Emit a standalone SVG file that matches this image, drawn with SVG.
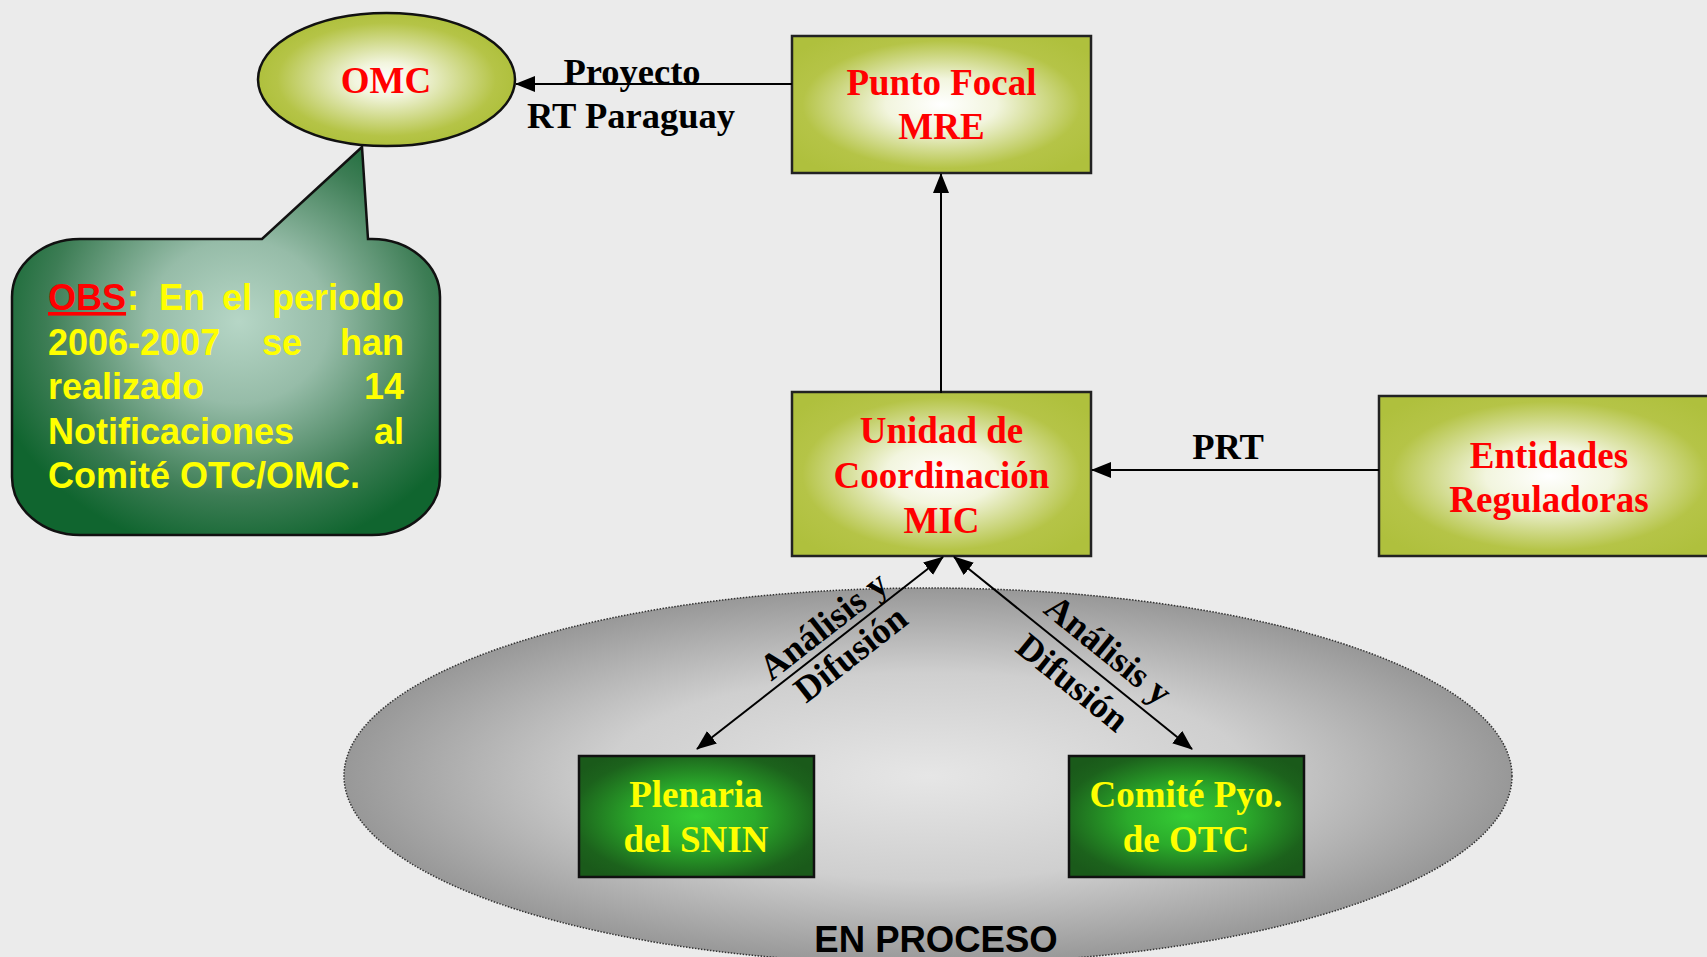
<svg xmlns="http://www.w3.org/2000/svg" width="1707" height="957" viewBox="0 0 1707 957">
<defs>
<radialGradient id="olive" cx="0.5" cy="0.5" r="0.62">
<stop offset="0" stop-color="#ffffff"/>
<stop offset="0.3" stop-color="#f2f5de"/>
<stop offset="0.75" stop-color="#b5c447"/>
<stop offset="1" stop-color="#afc03d"/>
</radialGradient>
<radialGradient id="oliveE" cx="0.5" cy="0.5" r="0.5">
<stop offset="0" stop-color="#ffffff"/>
<stop offset="0.25" stop-color="#f2f5de"/>
<stop offset="0.85" stop-color="#b5c447"/>
<stop offset="1" stop-color="#afc03d"/>
</radialGradient>
<radialGradient id="green" cx="0.5" cy="0.5" r="0.62">
<stop offset="0" stop-color="#35cc35"/>
<stop offset="0.4" stop-color="#2bab2b"/>
<stop offset="0.85" stop-color="#1c621c"/>
<stop offset="1" stop-color="#1a5a1a"/>
</radialGradient>
<radialGradient id="bubble" cx="0.53" cy="0.45" r="0.6">
<stop offset="0" stop-color="#b6d6c6"/>
<stop offset="0.35" stop-color="#96bca8"/>
<stop offset="0.75" stop-color="#3d7d55"/>
<stop offset="1" stop-color="#10652f"/>
</radialGradient>
<radialGradient id="gray" cx="0.5" cy="0.5" r="0.5">
<stop offset="0" stop-color="#e6e6e6"/>
<stop offset="0.55" stop-color="#cfcfcf"/>
<stop offset="1" stop-color="#989898"/>
</radialGradient>
<marker id="ah" viewBox="0 0 20 16" refX="19" refY="8" markerWidth="20" markerHeight="16" markerUnits="userSpaceOnUse" orient="auto-start-reverse">
<path d="M0,0 L20,8 L0,16 Z" fill="#000"/>
</marker>
</defs>
<style>
.olive{fill:url(#olive);stroke:#222;stroke-width:2.5}
.green{fill:url(#green);stroke:#111;stroke-width:2.5}
.red{font-family:"Liberation Serif",serif;font-weight:bold;font-size:37px;fill:#ff0000;text-anchor:middle}
.yel{font-family:"Liberation Serif",serif;font-weight:bold;font-size:37px;fill:#ffff00;text-anchor:middle}
.lbl{font-family:"Liberation Serif",serif;font-weight:bold;font-size:36.5px;fill:#000}
.obs{font-family:"Liberation Sans",sans-serif;font-weight:bold;font-size:36px;fill:#ffff00}
.conn{stroke:#000;stroke-width:2;fill:none}
</style>
<rect width="1707" height="957" fill="#ebebeb"/>

<g id="en-proceso">
<ellipse cx="928" cy="776" rx="584" ry="188" fill="url(#gray)" stroke="#333" stroke-width="1.5" stroke-dasharray="1.5 1.5"/>
<text x="936" y="952" font-family="Liberation Sans, sans-serif" font-weight="bold" font-size="36.5" text-anchor="middle" fill="#000">EN PROCESO</text>
</g>

<g id="omc">
<ellipse cx="386.5" cy="79.5" rx="128.5" ry="66.5" fill="url(#oliveE)" stroke="#111" stroke-width="2.5"/>
<text class="red" x="386" y="93">OMC</text>
</g>

<g id="obs-bubble">
<path d="M80,239 L262,239 L362,147 L368,239 L372,239 A68 58 0 0 1 440,297 L440,477 A68 58 0 0 1 372,535 L80,535 A68 58 0 0 1 12,477 L12,297 A68 58 0 0 1 80,239 Z" fill="url(#bubble)" stroke="#111" stroke-width="2.5"/>
<text x="48" y="310" font-family="Liberation Sans, sans-serif" font-weight="bold" font-size="36" fill="#ff0000" text-decoration="underline">OBS</text>
<text class="obs" x="127" y="310">:</text>
<text class="obs" x="159" y="310">En</text>
<text class="obs" x="222" y="310">el</text>
<text class="obs" x="404" y="310" text-anchor="end">periodo</text>
<text class="obs" x="48" y="355">2006-2007</text>
<text class="obs" x="262" y="355">se</text>
<text class="obs" x="404" y="355" text-anchor="end">han</text>
<text class="obs" x="48" y="399">realizado</text>
<text class="obs" x="404" y="399" text-anchor="end">14</text>
<text class="obs" x="48" y="444">Notificaciones</text>
<text class="obs" x="404" y="444" text-anchor="end">al</text>
<text class="obs" x="48" y="488">Comité OTC/OMC.</text>
</g>

<g id="punto-focal">
<rect class="olive" x="792" y="36" width="299" height="137"/>
<text class="red" x="941.5" y="95">Punto Focal</text>
<text class="red" x="941.5" y="139">MRE</text>
</g>

<g id="unidad">
<rect class="olive" x="792" y="392" width="299" height="164"/>
<text class="red" x="941.5" y="443">Unidad de</text>
<text class="red" x="941.5" y="488">Coordinación</text>
<text class="red" x="941.5" y="533">MIC</text>
</g>

<g id="entidades">
<rect class="olive" x="1379" y="396" width="340" height="160"/>
<text class="red" x="1549" y="468">Entidades</text>
<text class="red" x="1549" y="512">Reguladoras</text>
</g>

<g id="plenaria">
<rect class="green" x="579" y="756" width="235" height="121"/>
<text class="yel" x="696" y="807">Plenaria</text>
<text class="yel" x="696" y="852">del SNIN</text>
</g>

<g id="comite">
<rect class="green" x="1069" y="756" width="235" height="121"/>
<text class="yel" x="1186" y="807">Comité Pyo.</text>
<text class="yel" x="1186" y="852">de OTC</text>
</g>

<g id="connectors">
<line class="conn" x1="792" y1="84" x2="516" y2="84" marker-end="url(#ah)"/>
<line class="conn" x1="941" y1="393" x2="941" y2="174" marker-end="url(#ah)"/>
<line class="conn" x1="1379" y1="470" x2="1092" y2="470" marker-end="url(#ah)"/>
<line class="conn" x1="697" y1="749" x2="943" y2="557" marker-start="url(#ah)" marker-end="url(#ah)"/>
<line class="conn" x1="1192" y1="749" x2="954" y2="557" marker-start="url(#ah)" marker-end="url(#ah)"/>
<text class="lbl" x="632" y="84" text-anchor="middle">Proyecto</text>
<text class="lbl" x="631" y="128" text-anchor="middle">RT Paraguay</text>
<text class="lbl" x="1228" y="459" text-anchor="middle">PRT</text>
<g transform="translate(838,641) rotate(-38)">
<text class="lbl" x="-2" y="-9" text-anchor="middle">Análisis y</text>
<text class="lbl" x="2" y="30" text-anchor="middle">Difusión</text>
</g>
<g transform="translate(1090,666) rotate(39)">
<text class="lbl" x="4" y="-12" text-anchor="middle">Análisis y</text>
<text class="lbl" x="-3" y="36" text-anchor="middle">Difusión</text>
</g>
</g>
</svg>
